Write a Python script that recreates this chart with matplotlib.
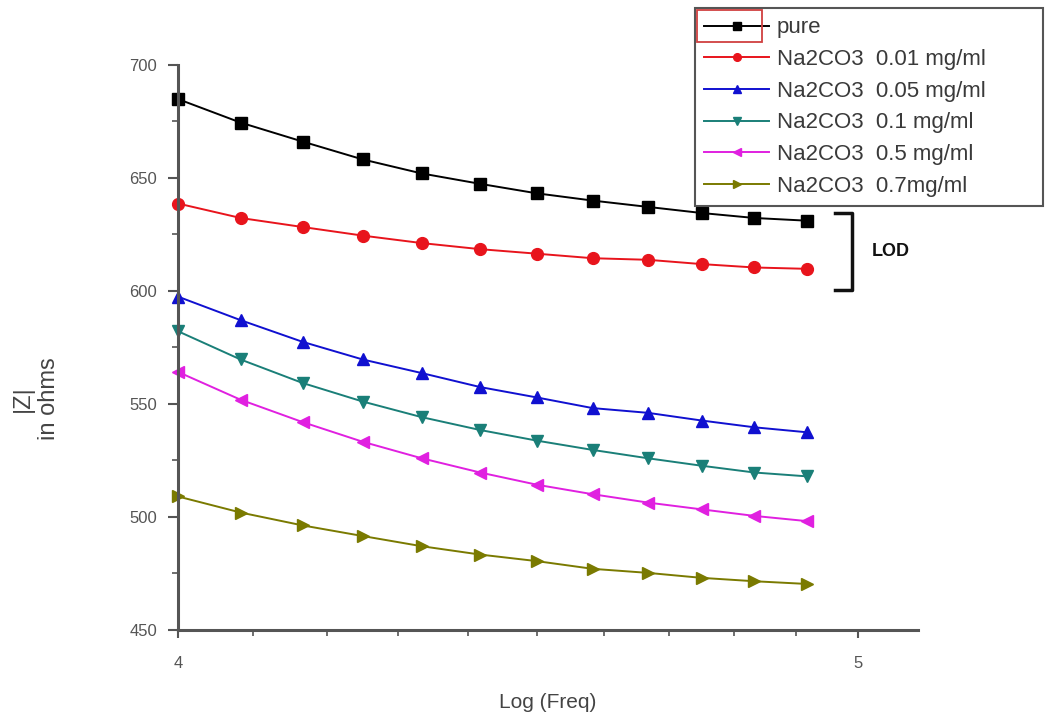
import matplotlib.pyplot as plt
from matplotlib.ticker import FixedLocator, NullFormatter, FuncFormatter
from matplotlib.patches import Rectangle

plt.rcParams['font.family'] = ['Liberation Sans', 'DejaVu Sans']

# Log (Freq) positions of the measured points
log_freq = [4.0, 4.083, 4.167, 4.25, 4.333, 4.417, 4.5, 4.583, 4.667, 4.75, 4.833, 4.917]

pure = [684.8, 674.4, 666.0, 658.1, 651.9, 647.3, 643.1, 639.9, 637.1, 634.4, 632.2, 631.0]
na_001 = [638.6, 632.2, 628.2, 624.4, 621.1, 618.4, 616.4, 614.4, 613.7, 611.8, 610.3, 609.7]
na_005 = [597.4, 587.0, 577.4, 569.6, 563.6, 557.4, 552.8, 548.1, 546.0, 542.6, 539.6, 537.4]
na_01 = [582.1, 569.6, 559.2, 551.0, 544.1, 538.4, 533.7, 529.6, 525.9, 522.6, 519.6, 517.9]
na_05 = [564.1, 551.8, 541.9, 533.2, 525.9, 519.6, 514.2, 510.0, 506.3, 503.3, 500.4, 498.1]
na_07 = [509.0, 501.9, 496.2, 491.5, 487.0, 483.3, 480.4, 477.0, 475.2, 473.0, 471.5, 470.3]

labels = ['pure', 'Na2CO3  0.01 mg/ml', 'Na2CO3  0.05 mg/ml', 'Na2CO3  0.1 mg/ml',
          'Na2CO3  0.5 mg/ml', 'Na2CO3  0.7mg/ml']
series = [pure, na_001, na_005, na_01, na_05, na_07]
colors = ['#000000', '#e8141c', '#1010d0', '#1a7f78', '#e020e0', '#7a7a00']
markers = ['s', 'o', '^', 'v', '<', '>']

fig = plt.figure(figsize=(10.47, 7.19), dpi=100)
ax = fig.add_axes([0.170, 0.124, 0.707, 0.786])

for ys, c, m, lab in zip(series, colors, markers, labels):
    ax.plot(log_freq, ys, color=c, marker=m, markersize=8.5, linewidth=1.4,
            label=lab, clip_on=False)

ax.set_xscale('log')
ax.set_xlim(4.0, 5.1)
ax.set_ylim(450, 700)

ax.xaxis.set_major_locator(FixedLocator([4, 5]))
ax.xaxis.set_minor_locator(FixedLocator([4.1, 4.2, 4.3, 4.4, 4.5, 4.6, 4.7, 4.8, 4.9]))
ax.xaxis.set_major_formatter(FuncFormatter(lambda v, p: '%g' % v))
ax.xaxis.set_minor_formatter(NullFormatter())
ax.yaxis.set_major_locator(FixedLocator([450, 500, 550, 600, 650, 700]))
ax.yaxis.set_minor_locator(FixedLocator([475, 525, 575, 625, 675]))

for s in ['top', 'right']:
    ax.spines[s].set_visible(False)
for s in ['left', 'bottom']:
    ax.spines[s].set_color('#555555')
    ax.spines[s].set_linewidth(2.2)

ax.tick_params(axis='y', which='major', direction='out', length=7, width=1.5,
               color='#555555', labelsize=12, labelcolor='#555555', pad=8)
ax.tick_params(axis='y', which='minor', direction='out', length=4, width=1.2, color='#555555')
ax.tick_params(axis='x', which='major', direction='out', length=6, width=1.5,
               color='#555555', labelsize=12, labelcolor='#555555', pad=13)
ax.tick_params(axis='x', which='minor', direction='out', length=4, width=1.2, color='#555555')

ax.set_xlabel('Log (Freq)', fontsize=15, color='#444444', labelpad=16)
ax.set_ylabel('|Z|\nin ohms', fontsize=17, color='#444444', linespacing=1.2)
ax.yaxis.set_label_coords(-0.16, 0.41)

leg = fig.legend(loc='upper left', bbox_to_anchor=(695 / 1047, 1 - 8 / 719, 348 / 1047, 0),
                 mode='expand', fontsize=16, frameon=True, fancybox=False,
                 edgecolor='#555555', framealpha=1, handlelength=2.9, handletextpad=0.35,
                 labelspacing=0.48, borderpad=0.42, borderaxespad=0, markerscale=0.65)
leg.get_frame().set_linewidth(1.5)
for t in leg.get_texts():
    t.set_color('#3a3a3a')

# red selection box round the 'pure' handle
sel = Rectangle((697 / 1047, 1 - 42 / 719), 65 / 1047, 32 / 719,
                transform=fig.transFigure, fill=False,
                edgecolor='#d04040', linewidth=1.3, zorder=10)
fig.add_artist(sel)

# LOD bracket
bx = [835 / 1047, 852 / 1047, 852 / 1047, 835 / 1047]
by = [1 - 213 / 719, 1 - 213 / 719, 1 - 290 / 719, 1 - 290 / 719]
fig.add_artist(plt.Line2D(bx, by, transform=fig.transFigure, color='#111111', linewidth=2.5))
fig.text(872 / 1047, 1 - 252 / 719, 'LOD', fontsize=13, fontweight='bold',
         color='#111111', va='center', ha='left')

fig.savefig('out.png', dpi=100)
